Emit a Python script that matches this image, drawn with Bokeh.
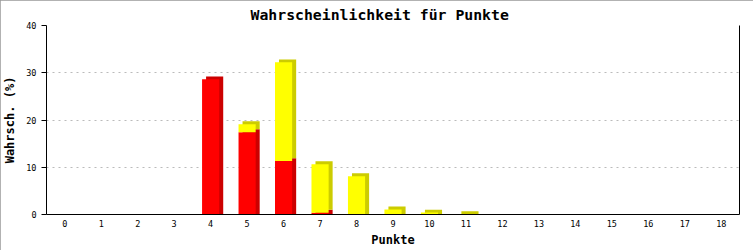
from bokeh.plotting import figure
from bokeh.models import ColumnDataSource, FactorRange, Range1d, LinearAxis, FixedTicker
from bokeh.transform import dodge
from bokeh.embed import file_html
from bokeh.resources import INLINE

categories = [str(i) for i in range(19)]
red_values = [0, 0, 0, 0, 28.6, 17.4, 11.3, 0.35, 0, 0, 0, 0, 0, 0, 0, 0, 0, 0, 0]
yellow_values = [0, 0, 0, 0, 0, 1.7, 20.9, 10.3, 8.1, 1.05, 0.4, 0.05, 0, 0, 0, 0, 0, 0, 0]
y_ticks = [0, 10, 20, 30, 40]

TITLE = "Wahrscheinlichkeit für Punkte"
XLABEL = "Punkte"
YLABEL = "Wahrsch. (%)"

W, H = 753, 250
ML, MR, MT, MB = 43, 14, 25, 36

p = figure(width=W, height=H, x_range=FactorRange(*categories, range_padding=0),
           y_range=Range1d(0, 40), output_backend="svg", toolbar_location=None,
           min_border_left=ML, min_border_right=MR, min_border_top=MT, min_border_bottom=MB,
           title=TITLE)
p.outline_line_color = None
p.background_fill_color = "white"
p.border_fill_color = "white"
p.styles = {"outline": "2px solid #999999", "outline-offset": "-2px"}

p.title.align = "left"
p.title.offset = 204
p.title.text_color = "black"
p.title.text_font = "DejaVu Sans Mono"
p.title.text_font_style = "bold"
p.title.text_font_size = "14.8px"
p.title.standoff = 6

# 3D offsets (data units)
DX = 0.11
DY = 0.63

def segs(bottoms, vals):
    top = [b + v for b, v in zip(bottoms, vals)]
    back_bottom = [(b + DY if b > 0 else 0) if v > 0 else 0 for b, v in zip(bottoms, vals)]
    back_top = [(t + DY) if v > 0 else 0 for t, v in zip(top, vals)]
    return dict(x=categories, bottom=bottoms, top=top, bb=back_bottom, bt=back_top)

red_src = ColumnDataSource(segs([0] * 19, red_values))
yel_src = ColumnDataSource(segs(red_values, yellow_values))

BW = 0.47
for src, front, dark in [(red_src, "#FF0000", "#CC0000"), (yel_src, "#FFFF00", "#CCCC00")]:
    p.vbar(x=dodge("x", DX, range=p.x_range), bottom="bb", top="bt", width=BW, source=src,
           fill_color=dark, line_color=None)
    p.vbar(x="x", bottom="bottom", top="top", width=BW, source=src,
           fill_color=front, line_color=None)

# axes
p.yaxis.ticker = y_ticks
p.yaxis.axis_line_color = "black"
p.yaxis.major_tick_line_color = "black"
p.yaxis.major_tick_out = 5
p.yaxis.major_tick_in = 0
p.yaxis.minor_tick_line_color = None
p.yaxis.major_label_text_font = "DejaVu Sans Mono"
p.yaxis.major_label_text_font_size = "8.5px"
p.yaxis.major_label_text_color = "black"
p.yaxis.major_label_standoff = 5
p.yaxis.axis_label = YLABEL
p.yaxis.axis_label_text_font = "DejaVu Sans Mono"
p.yaxis.axis_label_text_font_style = "bold"
p.yaxis.axis_label_text_font_size = "12px"
p.yaxis.axis_label_text_color = "black"
p.yaxis.axis_label_standoff = 6

p.xaxis.axis_line_color = "black"
p.xaxis.major_tick_line_color = None
p.xaxis.major_tick_out = 0
p.xaxis.major_label_text_font = "DejaVu Sans Mono"
p.xaxis.major_label_text_font_size = "8.5px"
p.xaxis.major_label_text_color = "black"
p.xaxis.major_label_standoff = 5
p.xaxis.axis_label = XLABEL
p.xaxis.axis_label_text_font = "DejaVu Sans Mono"
p.xaxis.axis_label_text_font_style = "bold"
p.xaxis.axis_label_text_font_size = "12px"
p.xaxis.axis_label_text_color = "black"
p.xaxis.axis_label_standoff = 3

right = LinearAxis(ticker=FixedTicker(ticks=[]), major_tick_line_color=None,
                   minor_tick_line_color=None, axis_line_color="black")
p.add_layout(right, "right")

p.xgrid.grid_line_color = None
p.ygrid.ticker = y_ticks
p.ygrid.grid_line_color = "#BBBBBB"
p.ygrid.grid_line_dash = "2 4"

open("out.html", "w").write(file_html(p, INLINE))
